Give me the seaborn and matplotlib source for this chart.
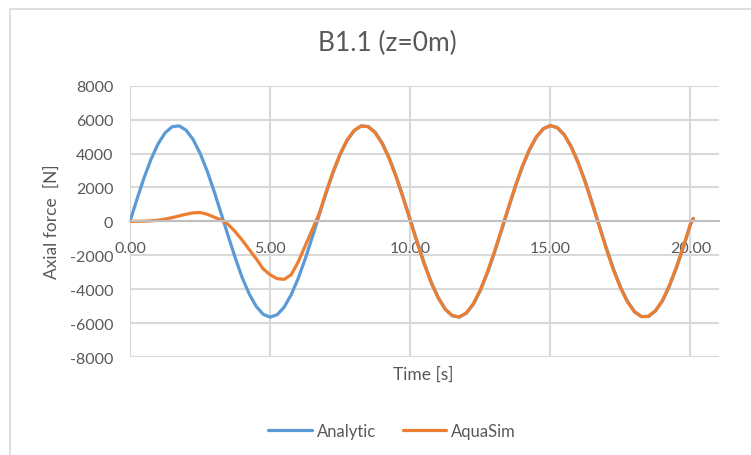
import numpy as np
import pandas as pd
import seaborn as sns
import matplotlib.pyplot as plt
from matplotlib.patches import Rectangle

# time samples [s]
time = [0.00, 0.25, 0.50, 0.75, 1.00, 1.25, 1.50, 1.75, 2.00, 2.25,
        2.50, 2.75, 3.00, 3.25, 3.50, 3.75, 4.00, 4.25, 4.50, 4.75,
        5.00, 5.25, 5.50, 5.75, 6.00, 6.25, 6.50, 6.75, 7.00, 7.25,
        7.50, 7.75, 8.00, 8.25, 8.50, 8.75, 9.00, 9.25, 9.50, 9.75,
        10.00, 10.25, 10.50, 10.75, 11.00, 11.25, 11.50, 11.75, 12.00, 12.25,
        12.50, 12.75, 13.00, 13.25, 13.50, 13.75, 14.00, 14.25, 14.50, 14.75,
        15.00, 15.25, 15.50, 15.75, 16.00, 16.25, 16.50, 16.75, 17.00, 17.25,
        17.50, 17.75, 18.00, 18.25, 18.50, 18.75, 19.00, 19.25, 19.50, 19.75,
        20.00, 20.10]

# axial force [N]
analytic = [0, 1316, 2560, 3663, 4565, 5214, 5579, 5634, 5379, 4832,
            4018, 2983, 1779, 477, -845, -2124, -3304, -4267, -5010, -5481,
            -5650, -5508, -5062, -4334, -3376, -2225, -954, 372, 1675, 2886,
            3938, 4777, 5347, 5625, 5594, 5253, 4625, 3744, 2655, 1418,
            106, -1214, -2467, -3584, -4497, -5174, -5561, -5646, -5421, -4899,
            -4089, -3067, -1875, -583, 742, 2027, 3200, 4197, 4963, 5455,
            5648, 5529, 5108, 4399, 3458, 2327, 1058, -266, -1574, -2798,
            -3862, -4711, -5313, -5613, -5608, -5290, -4698, -3817, -2737, -1522,
            -180, 170]

aquasim = [0, 0, 10, 30, 70, 130, 220, 320, 420, 500,
           520, 420, 250, 80, -180, -600, -1100, -1650, -2200, -2800,
           -3150, -3380, -3420, -3150, -2400, -1450, -500, 450, 1750, 2950,
           3990, 4810, 5370, 5630, 5580, 5220, 4580, 3690, 2590, 1350,
           40, -1280, -2530, -3630, -4530, -5190, -5565, -5640, -5400, -4860,
           -4040, -3000, -1810, -510, 810, 2090, 3260, 4240, 4990, 5470,
           5650, 5515, 5080, 4360, 3410, 2270, 990, -330, -1640, -2860,
           -3910, -4750, -5335, -5620, -5600, -5265, -4660, -3765, -2680, -1460,
           -150, 170]

df = pd.DataFrame({"Time": time, "Analytic": analytic, "AquaSim": aquasim})

grey = "#595959"
plt.rcParams["font.family"] = ["Lato", "DejaVu Sans"]
plt.rcParams["axes.unicode_minus"] = False

fig = plt.figure(figsize=(7.51, 4.56), dpi=100)
ax = fig.add_axes([130 / 751, 1 - 358 / 456, 588.5 / 751, 271.3 / 456])

sns.lineplot(data=df, x="Time", y="Analytic", ax=ax, color="#5B9BD5", lw=2.3, label="Analytic",
             solid_joinstyle="round", solid_capstyle="round")
sns.lineplot(data=df, x="Time", y="AquaSim", ax=ax, color="#ED7D31", lw=2.3, label="AquaSim",
             solid_joinstyle="round", solid_capstyle="round")

ax.set_xlim(0, 21)
ax.set_ylim(-8000, 8000)
ax.set_xticks([0, 5, 10, 15, 20])
ax.set_xticklabels(["0.00", "5.00", "10.00", "15.00", "20.00"])
ax.set_yticks(range(-8000, 8001, 2000))
ax.grid(True, color="#d9d9d9", lw=1.5)
ax.set_axisbelow(True)
for s in ["top", "right", "left"]:
    ax.spines[s].set_visible(False)
ax.spines["bottom"].set_position(("data", 0))
ax.spines["bottom"].set_color("#bfbfbf")
ax.spines["bottom"].set_linewidth(1.5)
ax.tick_params(axis="both", length=0, colors=grey, labelsize=11.5)
ax.tick_params(axis="x", pad=14)
ax.tick_params(axis="y", pad=12)

ax.set_xlabel("")
ax.set_ylabel("")
fig.text(423 / 751, 1 - 375 / 456, "Time [s]", ha="center", va="center", color=grey, fontsize=12.5)
fig.text(52 / 751, 1 - 222 / 456, "Axial force  [N]", ha="center", va="center", rotation=90,
         color=grey, fontsize=12.5)
fig.text(387 / 751, 1 - 43 / 456, "B1.1 (z=0m)", ha="center", va="center", color=grey, fontsize=19)

ax.get_legend().remove()
h, l = ax.get_legend_handles_labels()
fig.legend(h, l, loc="center", bbox_to_anchor=(392 / 751, 1 - 432 / 456), ncol=2, frameon=False,
           fontsize=12, labelcolor=grey, handlelength=2.6, handletextpad=0.3, columnspacing=1.6)

# chart area border (cropped on the right and bottom)
fig.patches.append(Rectangle((10 / 751, -0.1), 1.2, 1 - 10 / 456 + 0.1, transform=fig.transFigure,
                             fill=False, edgecolor="#d9d9d9", lw=1.2))

fig.savefig("out.png", dpi=100)
